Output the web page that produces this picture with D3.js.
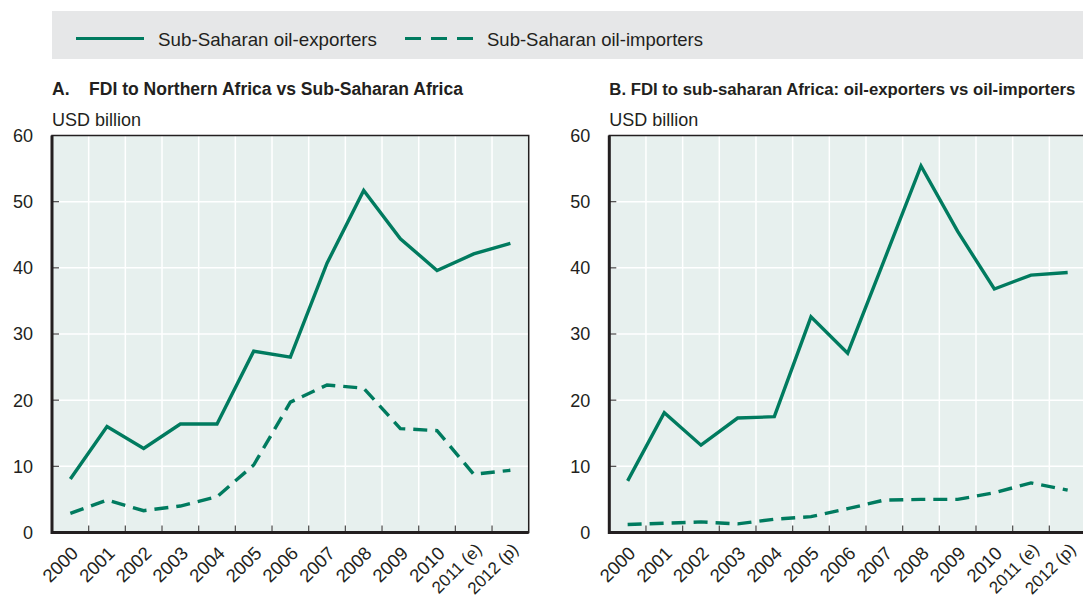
<!DOCTYPE html>
<html lang="en">
<head>
<meta charset="UTF-8">
<title>FDI Africa</title>
<style>
  * { margin: 0; padding: 0 }
  body { background: #fff; }
  text { font-family: "Liberation Sans", Arial, sans-serif; fill: #231f20; }
</style>
</head>
<body>
<svg id="chart" width="1083" height="601"></svg>
<script src="https://d3js.org/d3.v7.min.js"></script>
<script>
const years = ['2000', '2001', '2002', '2003', '2004', '2005', '2006', '2007', '2008', '2009', '2010', '2011 (e)', '2012 (p)'];
const yTicks = [0, 10, 20, 30, 40, 50, 60];

// panel A
const aExporters = [8.1, 16.0, 12.7, 16.4, 16.4, 27.4, 26.5, 40.7, 51.7, 44.4, 39.6, 42.1, 43.7];
const aImporters = [2.9, 4.9, 3.3, 4.0, 5.4, 10.2, 19.7, 22.3, 21.8, 15.7, 15.4, 8.8, 9.4];
// panel B
const bExporters = [7.8, 18.1, 13.2, 17.3, 17.5, 32.6, 27.1, 41.2, 55.4, 45.5, 36.8, 38.9, 39.3];
const bImporters = [1.2, 1.4, 1.6, 1.3, 2.0, 2.4, 3.6, 4.9, 5.0, 5.0, 6.0, 7.5, 6.4];

const seriesNames = ['Sub-Saharan oil-exporters', 'Sub-Saharan oil-importers'];
const titles = ['A.    FDI to Northern Africa vs Sub-Saharan Africa', 'B. FDI to sub-saharan Africa: oil-exporters vs oil-importers'];

const green = '#007b5f';
const dash = '14,8';
const svg = d3.select('#chart');

// legend
svg.append('rect').attr('x', 52).attr('y', 11).attr('width', 1040).attr('height', 48).attr('fill', '#e6e7e8');
const legendItems = [{x: 76, dashed: false}, {x: 405, dashed: true}];
legendItems.forEach((d, i) => {
  svg.append('line')
    .attr('x1', d.x).attr('x2', d.x + 68).attr('y1', 38.5).attr('y2', 38.5)
    .attr('stroke', green).attr('stroke-width', 3.2)
    .attr('stroke-dasharray', d.dashed ? '16,10' : null);
  svg.append('text').attr('x', d.x + 82).attr('y', 45.5)
    .style('font-size', '19px').attr('textLength', i ? 216 : 219).attr('lengthAdjust', 'spacingAndGlyphs')
    .text(seriesNames[i]);
});

function drawPanel(left, title, titleLen, titleSize, exporters, importers) {
  const width = 13 * 36.67, top = 135.5, bottom = 532.5;
  const x = d3.scaleBand().domain(years).range([left, left + width]);
  const y = d3.scaleLinear().domain([0, 60]).range([bottom, top]);
  const g = svg.append('g');

  g.append('text').attr('x', left).attr('y', 94.5)
    .style('font-size', titleSize + 'px').style('font-weight', 'bold').attr('xml:space', 'preserve')
    .attr('textLength', titleLen).attr('lengthAdjust', 'spacingAndGlyphs').text(title);
  g.append('text').attr('x', left).attr('y', 125.5).style('font-size', '18.5px')
    .attr('textLength', 89).attr('lengthAdjust', 'spacingAndGlyphs').text('USD billion');

  g.append('rect').attr('x', left).attr('y', top).attr('width', width).attr('height', bottom - top)
    .attr('fill', '#e7f0ee');

  // grid
  g.selectAll('.vgrid').data(years.slice(1)).enter().append('line')
    .attr('x1', d => x(d)).attr('x2', d => x(d)).attr('y1', top).attr('y2', bottom)
    .attr('stroke', '#fff').attr('stroke-width', 1.5);
  g.selectAll('.hgrid').data(yTicks.slice(1, -1)).enter().append('line')
    .attr('x1', left).attr('x2', left + width).attr('y1', d => y(d)).attr('y2', d => y(d))
    .attr('stroke', '#fff').attr('stroke-width', 1.5);

  // inner ticks
  g.selectAll('.xt').data(years.slice(1)).enter().append('line')
    .attr('x1', d => x(d)).attr('x2', d => x(d)).attr('y1', bottom).attr('y2', bottom - 7)
    .attr('stroke', '#555').attr('stroke-width', 1.3);
  g.selectAll('.yt').data(yTicks.slice(1, -1)).enter().append('line')
    .attr('x1', left).attr('x2', left + 7).attr('y1', d => y(d)).attr('y2', d => y(d))
    .attr('stroke', '#555').attr('stroke-width', 1.3);

  // frame
  g.append('rect').attr('x', left).attr('y', top).attr('width', width).attr('height', bottom - top)
    .attr('fill', 'none').attr('stroke', '#231f20').attr('stroke-width', 1.5);
  g.append('path').attr('d', `M${left},${top}V${bottom}H${left + width}`)
    .attr('fill', 'none').attr('stroke', '#231f20').attr('stroke-width', 3);

  // y labels
  g.selectAll('.yl').data(yTicks).enter().append('text')
    .attr('x', left - 19).attr('y', d => y(d)).attr('dy', '0.36em')
    .attr('text-anchor', 'end').style('font-size', '18px').text(d => d);

  // x labels (long ones a bit smaller so they stay inside the picture)
  g.selectAll('.xl').data(years).enter().append('text')
    .attr('transform', d => `translate(${x(d) + x.bandwidth() / 2 + 9},${bottom + (d.length > 4 ? 18 : 22)}) rotate(-45)`)
    .attr('text-anchor', 'end').style('font-size', d => d.length > 4 ? '17px' : '18.5px').text(d => d);

  const line = d3.line().x((d, i) => x(years[i]) + x.bandwidth() / 2).y(d => y(d));
  g.append('path').datum(exporters).attr('d', line)
    .attr('fill', 'none').attr('stroke', green).attr('stroke-width', 3.4).attr('stroke-linejoin', 'miter');
  g.append('path').datum(importers).attr('d', line)
    .attr('fill', 'none').attr('stroke', green).attr('stroke-width', 3.4).attr('stroke-dasharray', dash);
}

drawPanel(52, titles[0], 411, 18, aExporters, aImporters);
drawPanel(609.3, titles[1], 466, 16.8, bExporters, bImporters);
</script>
</body>
</html>
